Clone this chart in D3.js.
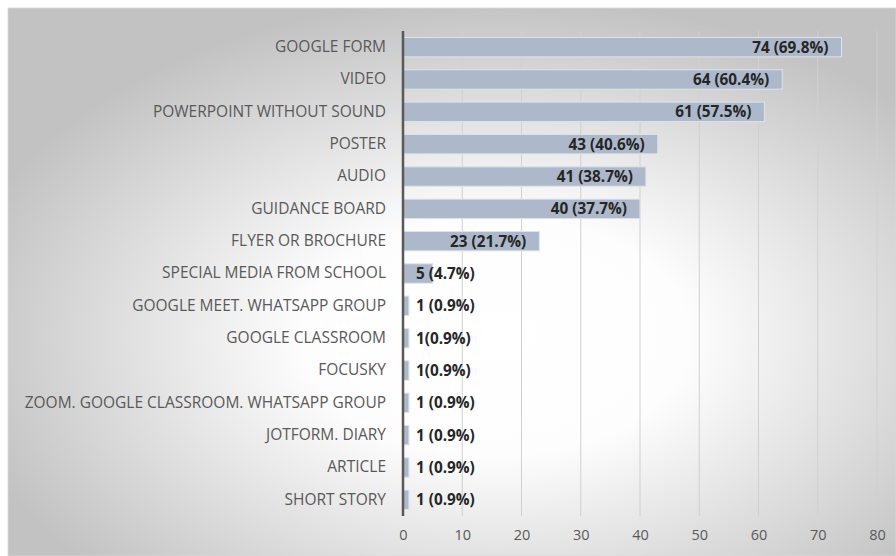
<!DOCTYPE html>
<html>
<head>
<meta charset="utf-8">
<script src="https://cdn.jsdelivr.net/npm/d3@7"></script>
<style>
  body { margin: 0; background: #fff; }
  svg { display: block; }
</style>
</head>
<body>
<div id="chart"></div>
<script>
// data
const categories = [
  "GOOGLE FORM", "VIDEO", "POWERPOINT WITHOUT SOUND", "POSTER", "AUDIO",
  "GUIDANCE BOARD", "FLYER OR BROCHURE", "SPECIAL MEDIA FROM SCHOOL",
  "GOOGLE MEET. WHATSAPP GROUP", "GOOGLE CLASSROOM", "FOCUSKY",
  "ZOOM. GOOGLE CLASSROOM. WHATSAPP GROUP", "JOTFORM. DIARY", "ARTICLE", "SHORT STORY"
]
const values = [74, 64, 61, 43, 41, 40, 23, 5, 1, 1, 1, 1, 1, 1, 1]
const valueLabels = [
  "74 (69.8%)", "64 (60.4%)", "61 (57.5%)", "43 (40.6%)", "41 (38.7%)",
  "40 (37.7%)", "23 (21.7%)", "5 (4.7%)", "1 (0.9%)", "1(0.9%)", "1(0.9%)",
  "1 (0.9%)", "1 (0.9%)", "1 (0.9%)", "1 (0.9%)"
]
const ticks = [0, 10, 20, 30, 40, 50, 60, 70, 80]

let width = 896
let height = 556
let font = "'Open Sans', sans-serif"
let plot = { left: 403, right: 877, top: 31, bottom: 516 }

let svg = d3.select("#chart")
    .append("svg")
    .attr("width", width)
    .attr("height", height)

// radial background like the office chart
let defs = svg.append("defs")
let grad = defs.append("radialGradient")
    .attr("id", "bg")
    .attr("cx", "55%")
    .attr("cy", "60%")
    .attr("r", "62%")
grad.append("stop").attr("offset", "0%").attr("stop-color", "#ffffff")
grad.append("stop").attr("offset", "35%").attr("stop-color", "#fdfdfd")
grad.append("stop").attr("offset", "100%").attr("stop-color", "#c2c2c2")

svg.append("rect")
    .attr("x", 8)
    .attr("y", 8)
    .attr("width", width - 8)
    .attr("height", height - 8)
    .attr("fill", "url(#bg)")
    .attr("stroke", "#d9d9d9")
    .attr("stroke-width", 0.8)

let x = d3.scaleLinear()
    .domain([0, 80])
    .range([plot.left, plot.right])
let y = d3.scaleBand()
    .domain(categories)
    .range([plot.top, plot.bottom])
    .paddingInner(0.4)
    .paddingOuter(0.2)

// gridlines
svg.append("g")
    .selectAll("line")
    .data(ticks.slice(1))
    .enter()
    .append("line")
    .attr("x1", d => x(d))
    .attr("x2", d => x(d))
    .attr("y1", plot.top)
    .attr("y2", plot.bottom)
    .attr("stroke", "#d0d0d0")
    .attr("stroke-width", 1)

// x axis tick labels
let xAxis = svg.append("g")
    .attr("transform", `translate(0,${plot.bottom})`)
    .call(d3.axisBottom(x).tickValues(ticks).tickSize(0).tickPadding(14))
xAxis.select(".domain").remove()
xAxis.selectAll("text")
    .attr("font-family", font)
    .attr("font-size", 14.5)
    .attr("fill", "#595959")

// bars
svg.append("g")
    .selectAll("rect")
    .data(values)
    .enter()
    .append("rect")
    .attr("x", x(0))
    .attr("y", (d, i) => y(categories[i]))
    .attr("width", d => x(d) - x(0))
    .attr("height", y.bandwidth())
    .attr("fill", "#adb9ca")
    .attr("stroke", "#dde3ec")
    .attr("stroke-width", 1)

// category labels
let yAxis = svg.append("g")
    .attr("transform", `translate(${plot.left},0)`)
    .call(d3.axisLeft(y).tickSize(0).tickPadding(17))
yAxis.select(".domain").remove()
yAxis.selectAll("text")
    .attr("font-family", font)
    .attr("font-size", 15.5)
    .attr("fill", "#595959")

// the dark vertical axis line
svg.append("line")
    .attr("x1", plot.left)
    .attr("x2", plot.left)
    .attr("y1", plot.top)
    .attr("y2", plot.bottom)
    .attr("stroke", "#595959")
    .attr("stroke-width", 2.5)

// value labels: inside end when they fit, else just past the axis
let labelG = svg.append("g")
labelG.selectAll("text")
    .data(values)
    .enter()
    .append("text")
    .attr("font-family", font)
    .attr("font-size", 15.3)
    .attr("font-weight", "bold")
    .attr("fill", "#262626")
    .attr("y", (d, i) => y(categories[i]) + y.bandwidth() / 2)
    .attr("dy", "0.36em")
    .attr("text-anchor", "end")
    .text((d, i) => valueLabels[i])
    .attr("x", function (d) {
        let w = this.getComputedTextLength()
        return Math.max(x(d) - 13, plot.left + 13 + w)
    })
</script>
</body>
</html>
